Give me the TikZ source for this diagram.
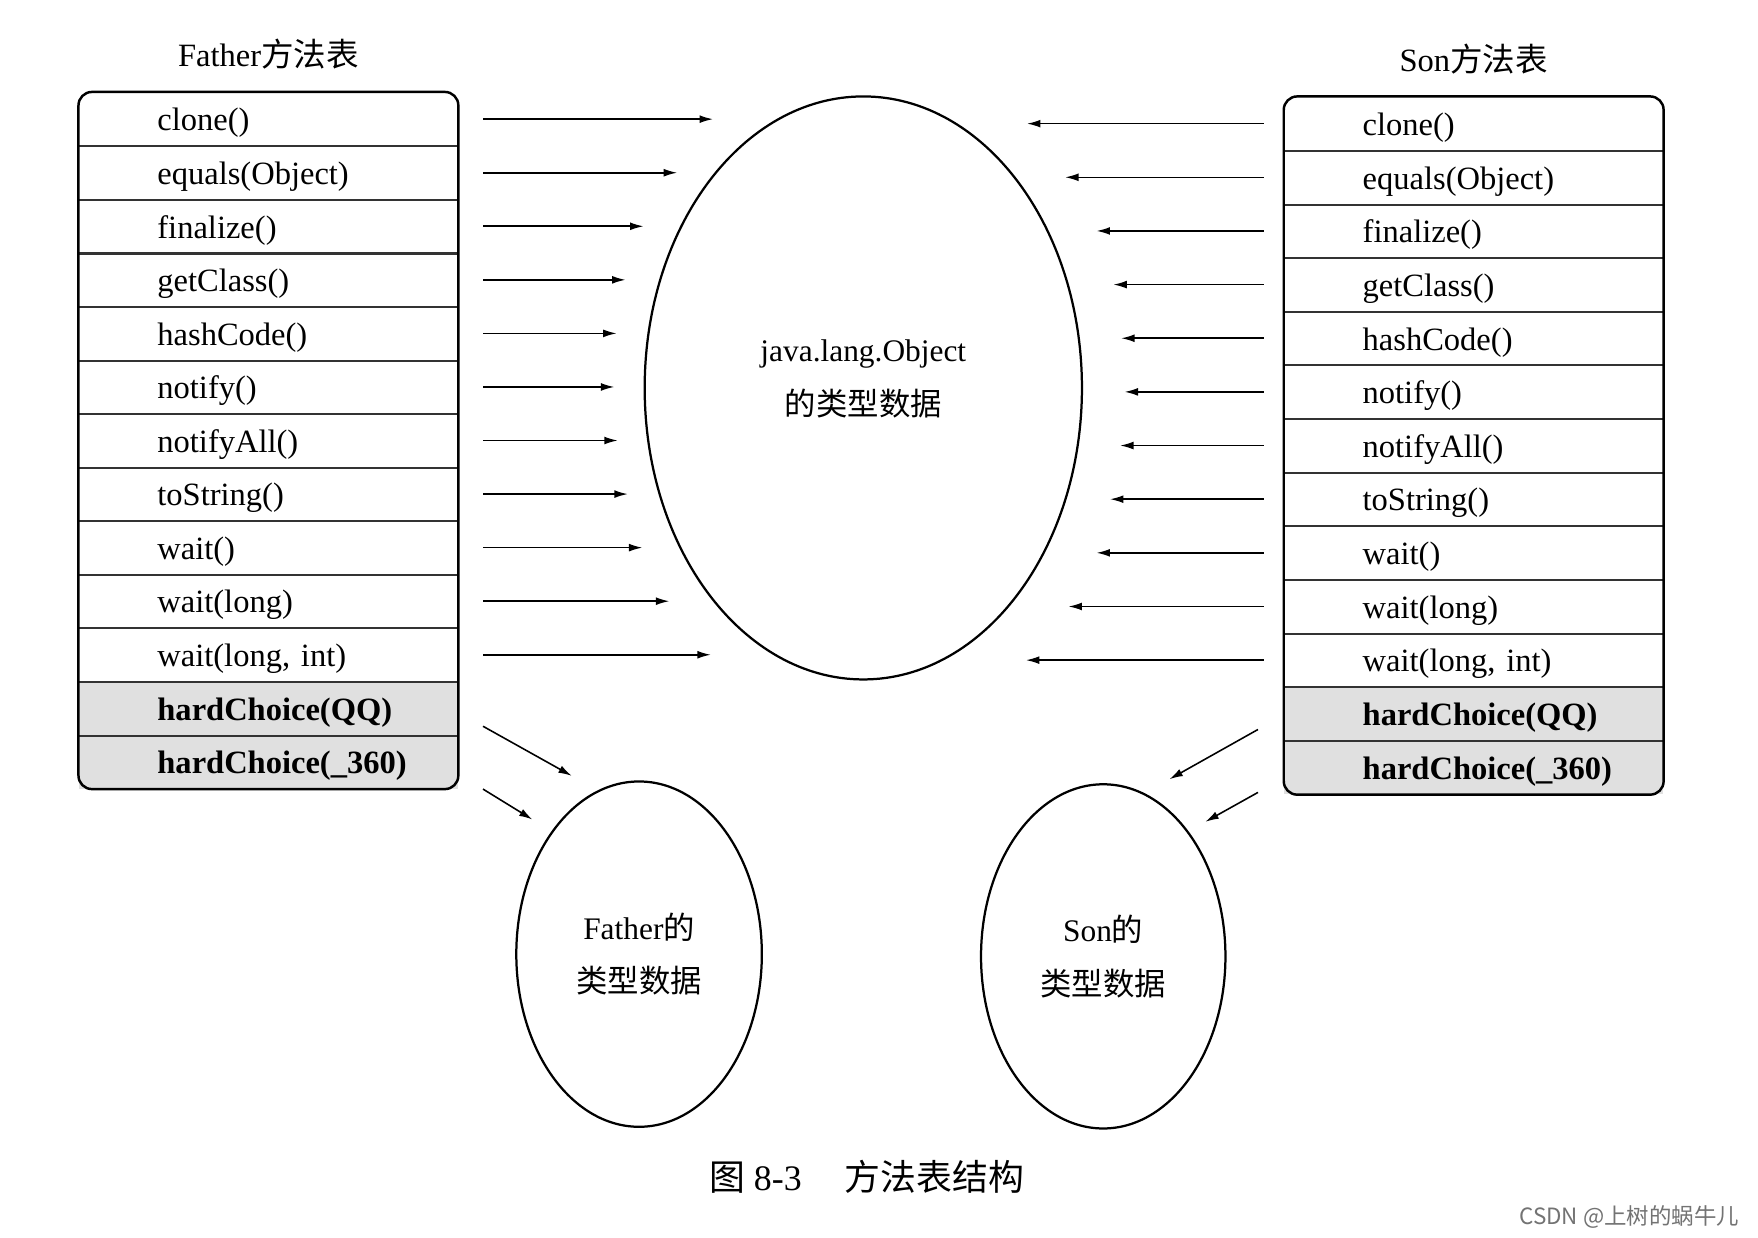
\documentclass[tikz,border=0pt]{standalone}
\usepackage{fontspec}
\setmainfont{Liberation Serif}
\newfontfamily\cjk{Noto Sans CJK SC}
\usetikzlibrary{shapes.geometric,positioning,fit,arrows.meta}
\begin{document}
\begin{tikzpicture}[x=0.5pt,y=-0.5pt]
	\tikzstyle{row} = [rectangle, inner xsep=35pt, inner ysep=0pt, text width=99pt, text height=12.5pt, text depth=2pt, align=left, minimum height=23.88pt, font=\fontsize{14.5}{16}\selectfont]
	\tikzstyle{hot} = [row, fill=black!12, font=\fontsize{14.5}{16}\selectfont\bfseries]
	\tikzstyle{table} = [draw, line width=1.1pt, rounded corners=6pt, inner sep=0pt]
	\tikzstyle{title} = [font=\fontsize{14.5}{16}\selectfont]
	\tikzstyle{e} = [draw, shape=ellipse, line width=1pt, inner sep=0pt, align=center, font=\fontsize{14}{24}\selectfont]
	\tikzstyle{a} = [-{Latex[length=6pt,width=3.5pt]}, line width=0.7pt]
	\tikzstyle{sep} = [line width=0.9pt, black!80]
	\path[fill=white, use as bounding box] (0,0) rectangle (1568,1104);
	\foreach \m [count=\i] in {clone(), equals(Object), finalize(), getClass(), hashCode(), notify(), notifyAll(), toString(), wait(), wait(long), {wait(long, int)}} {
		\node[row, anchor=north west] (f\i) at (70, {82+(\i-1)*47.77}) {\m};
		\node[row, anchor=north west] (s\i) at (1145, {86+(\i-1)*47.85}) {\m};
	}
	\foreach \m [count=\i from 12] in {hardChoice(QQ), hardChoice(\_360)} {
		\node[hot, anchor=north west] (f\i) at (70, {82+(\i-1)*47.77}) {\m};
		\node[hot, anchor=north west] (s\i) at (1145, {86+(\i-1)*47.85}) {\m};
	}
	\foreach \i in {1,...,12} {
		\draw[sep] (f\i.south west) -- (f\i.south east);
		\draw[sep] (s\i.south west) -- (s\i.south east);
	}
	\node[table, fit=(f1)(f13)] (father) {};
	\node[table, fit=(s1)(s13)] (son) {};
	\node[title, above=6pt of father] (ftitle) {Father{\cjk 方法表}};
	\node[title, above=6pt of son] (stitle) {Son{\cjk 方法表}};
	\node[e, minimum width=195pt, minimum height=260pt] (object) at (770,346) {java.lang.Object\\{\cjk 的类型数据}\\[-15pt]};
	\node[e, minimum width=109.5pt, minimum height=154pt] (fdata) at (570,851) {Father{\cjk 的}\\{\cjk 类型数据}};
	\node[e, minimum width=109pt, minimum height=153.5pt] (sdata) at (984,853) {Son{\cjk 的}\\{\cjk 类型数据}};
	\foreach \x [count=\i] in {636,604,574,558,550,548,551,560,573,597,634} {
		\coordinate (fo\i) at (\x,0 |- f\i.east);
		\draw[a] ([xshift=11pt]f\i.east) -- (fo\i);
	}
	\foreach \x [count=\i] in {916,950,978,993,1000,1003,999,990,978,953,915} {
		\coordinate (so\i) at (\x,0 |- s\i.east);
		\draw[a] ([xshift=-9pt]s\i.west) -- (so\i);
	}
	\coordinate (fd1) at (510,692);
	\coordinate (fd2) at (475,731);
	\coordinate (sd1) at (1043,695);
	\coordinate (sd2) at (1075,733);
	\draw[a] ([shift={(11pt,-8pt)}]f12.east) -- (fd1);
	\draw[a] ([xshift=11pt]f13.south east) -- (fd2);
	\draw[a] ([shift={(-11.5pt,-7pt)}]s12.west) -- (sd1);
	\draw[a] ([shift={(-11.5pt,1pt)}]s13.south west) -- (sd2);
	\node[font=\fontsize{16}{18}\selectfont] (caption) at (773,1050) {{\cjk 图} 8-3\hspace{1.2em}{\cjk 方法表结构}};
	\node[font=\fontsize{10}{12}\selectfont, text=black!55, anchor=east] (mark) at (1558,1085) {{\cjk CSDN @上树的蜗牛儿}};
\end{tikzpicture}
\end{document}
